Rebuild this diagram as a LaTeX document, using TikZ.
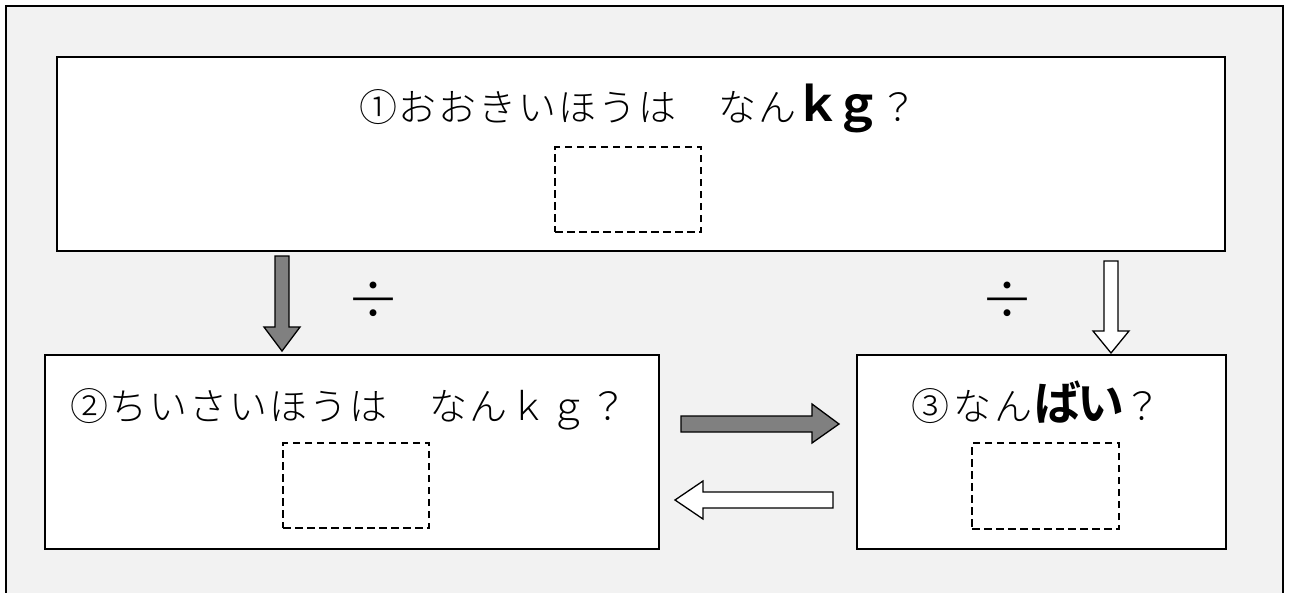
\documentclass[tikz,border=0pt]{standalone}
\usepackage{fontspec}
\newfontfamily\jp{Noto Sans CJK JP}[UprightFont={* Light}, BoldFont={* Bold}]
\definecolor{bgray}{HTML}{F2F2F2}
\definecolor{agray}{HTML}{808080}
\newcommand\cbx[2][40pt]{\makebox[#1]{#2}}
\newcommand\bigb[1]{{\bfseries\fontsize{47}{47}\selectfont #1}}
\tikzset{
  qbox/.style={draw=black, line width=2.5pt, fill=white, inner sep=0pt},
  ansbox/.style={draw=black, line width=2.2pt, dash pattern=on 7.5pt off 4.5pt, fill=white, inner sep=0pt},
  qtext/.style={anchor=base, inner sep=0pt, font=\jp\fontsize{38}{38}\selectfont},
  divtext/.style={inner sep=0pt, font=\jp\fontsize{54}{54}\selectfont},
  grayarrow/.style={draw=black, line width=1.3pt, fill=agray, line join=miter},
  whitearrow/.style={draw=black, line width=1.3pt, fill=white, line join=miter}
}
\begin{document}
\begin{tikzpicture}[x=1pt,y=-1pt]
\useasboundingbox (0,0) rectangle (1290,592);
\fill[white] (0,0) rectangle (1290,592);
% outer frame
\draw[line width=1.5pt, fill=bgray] (6,610) -- (6,6) -- (1283,6) -- (1283,610);
% boxes
\node[qbox, minimum width=1168pt, minimum height=194pt] (top) at (641,154) {};
\node[qbox, minimum width=614pt, minimum height=194pt] (small) at (352,452) {};
\node[qbox, minimum width=369pt, minimum height=194pt] (times) at (1041.5,452) {};
% answer boxes
\node[ansbox, minimum width=146pt, minimum height=85pt] (a1) at (628,189.5) {};
\node[ansbox, minimum width=146pt, minimum height=85pt] (a2) at (356,485.5) {};
\node[ansbox, minimum width=147pt, minimum height=86pt] (a3) at (1045.5,486) {};
% texts
\node[qtext] (t1) at (638,121) {\cbx{①}\cbx{お}\cbx{お}\cbx{き}\cbx{い}\cbx{ほ}\cbx{う}\cbx{は}\cbx{}\cbx{な}\cbx{ん}\cbx{\bigb{ｋ}}\cbx{\bigb{ｇ}}\cbx{？}};
\node[qtext] (t2) at (349,420) {\cbx{②}\cbx{ち}\cbx{い}\cbx{さ}\cbx{い}\cbx{ほ}\cbx{う}\cbx{は}\cbx{}\cbx{な}\cbx{ん}\cbx{ｋ}\cbx{ｇ}\cbx{？}};
\node[qtext] (t3) at (1036,420) {\cbx[42pt]{③}\cbx[42pt]{な}\cbx[42pt]{ん}\cbx[45pt]{\bigb{ば}}\cbx[41pt]{\bigb{い}}\cbx[42pt]{？}};
% division signs
\node[divtext] (d1) at (373,301) {÷};
\node[divtext] (d2) at (1007,301) {÷};
% block arrows
\draw[grayarrow] (275,256) -- (289,256) -- (289,327) -- (300,327) -- (282,351) -- (264,327) -- (275,327) -- cycle;
\draw[whitearrow] (1104,261) -- (1118,261) -- (1118,331) -- (1129,331) -- (1111,353) -- (1093,331) -- (1104,331) -- cycle;
\draw[grayarrow] (681,416) -- (812,416) -- (812,404) -- (839,424) -- (812,443) -- (812,432) -- (681,432) -- cycle;
\draw[whitearrow] (833,492) -- (703,492) -- (703,481) -- (675,500) -- (703,519) -- (703,508) -- (833,508) -- cycle;
\end{tikzpicture}
\end{document}
